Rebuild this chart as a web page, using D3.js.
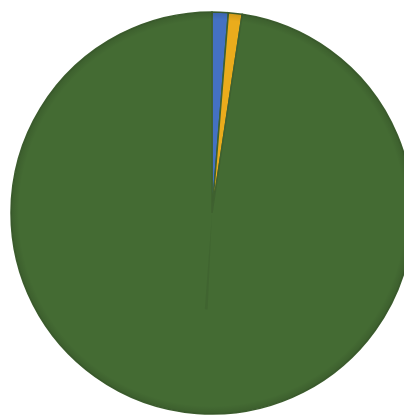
<!DOCTYPE html>
<html><head><meta charset="utf-8">
<script src="https://cdn.jsdelivr.net/npm/d3@7"></script>
<style>html,body{margin:0;padding:0;background:#fff;overflow:hidden}</style>
</head><body>
<svg id="c" width="404" height="416"></svg>
<script>
const categories = ["A", "B", "C"];
const values = [1.3, 1.1, 97.6];
const colors = ["#4471c3", "#eaac1c", "#446b33"];

const svg = d3.select("#c");
const cx = 212, cy = 213, r = 201;
const g = svg.append("g").attr("transform", `translate(${cx},${cy})`);

const pie = d3.pie().sort(null).value(d => d.v);
const arcs = pie(categories.map((c, i) => ({c, v: values[i], col: colors[i]})));
const arc = d3.arc().innerRadius(0).outerRadius(r);

const defs = svg.append("defs");
const rg = defs.append("radialGradient").attr("id", "rim").attr("cx", "50%").attr("cy", "50%").attr("r", "50%");
rg.append("stop").attr("offset", "0.96").attr("stop-color", "#000").attr("stop-opacity", 0);
rg.append("stop").attr("offset", "1").attr("stop-color", "#000").attr("stop-opacity", 0.12);

g.selectAll("path.s").data(arcs).join("path").attr("class", "s")
  .attr("d", arc).attr("fill", d => d.data.col)
  .attr("stroke", "#3f6130").attr("stroke-width", 1.5);

// soft inner shadow line
const sh = d3.arc().innerRadius(0).outerRadius(r * 0.48);
g.append("path")
  .attr("d", sh({startAngle: Math.PI + 0.045, endAngle: Math.PI + 0.075}))
  .attr("fill", "#000").attr("opacity", 0.06);

g.append("circle").attr("r", r).attr("fill", "url(#rim)");
</script>
</body></html>
